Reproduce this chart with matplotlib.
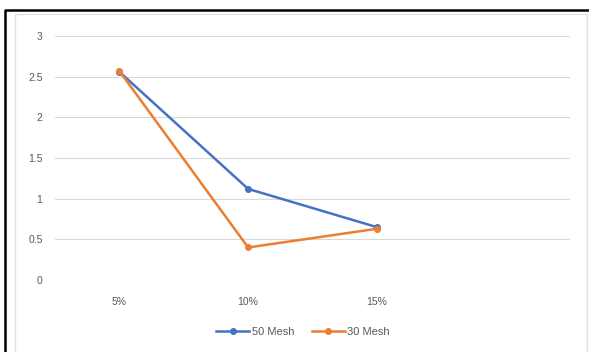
import matplotlib.pyplot as plt
from matplotlib.lines import Line2D

# Moisture ratio by additive level for two mesh sizes
categories = ['5%', '10%', '15%', '']
mesh_50 = [2.56, 1.12, 0.65]
mesh_30 = [2.57, 0.40, 0.63]
y_ticks = [0, 0.5, 1, 1.5, 2, 2.5, 3]
y_tick_labels = ['0', '0.5', '1', '1.5', '2', '2.5', '3']

blue = '#4472C4'
orange = '#ED7D31'
text_grey = '#595959'

plt.rcParams['font.family'] = ['Liberation Sans', 'DejaVu Sans']

fig = plt.figure(figsize=(5.89, 3.52), dpi=100)
ax = fig.add_axes([55 / 589, 1 - 280 / 352, 515 / 589, 244 / 352])

x = list(range(len(mesh_50)))
ax.plot(x, mesh_50, color=blue, lw=1.8, marker='o', ms=4, label='50 Mesh', zorder=3)
ax.plot(x, mesh_30, color=orange, lw=1.8, marker='o', ms=4, label='30 Mesh', zorder=3)

ax.set_xlim(-0.5, len(categories) - 0.5)
ax.set_ylim(0, 3)
ax.set_xticks(range(len(categories)))
ax.set_xticklabels(categories)
ax.set_yticks(y_ticks)
ax.set_yticklabels(y_tick_labels)
ax.tick_params(length=0, labelsize=7.5, labelcolor=text_grey, pad=9)
ax.tick_params(axis='x', pad=12)
ax.grid(axis='y', color='#D9D9D9', lw=0.8)
ax.set_axisbelow(True)
for side in ax.spines.values():
    side.set_visible(False)

ax.legend(loc='center', bbox_to_anchor=(303 / 589, 1 - 332 / 352),
          bbox_transform=fig.transFigure, ncol=2, frameon=False,
          fontsize=8, labelcolor=text_grey, handlelength=3.0,
          handletextpad=0.2, columnspacing=1.6)

# chart frame: light inner border plus the heavy outer edge along top and left
fig.add_artist(Line2D([15 / 589, 15 / 589, 587 / 589, 587 / 589],
                      [0, 1 - 14 / 352, 1 - 14 / 352, 0],
                      color='#E0E0E0', lw=1.0, transform=fig.transFigure))
fig.add_artist(Line2D([5 / 589, 5 / 589, 1], [0, 1 - 10 / 352, 1 - 10 / 352],
                      color='black', lw=1.8, transform=fig.transFigure))

fig.savefig('out.png', dpi=100)
